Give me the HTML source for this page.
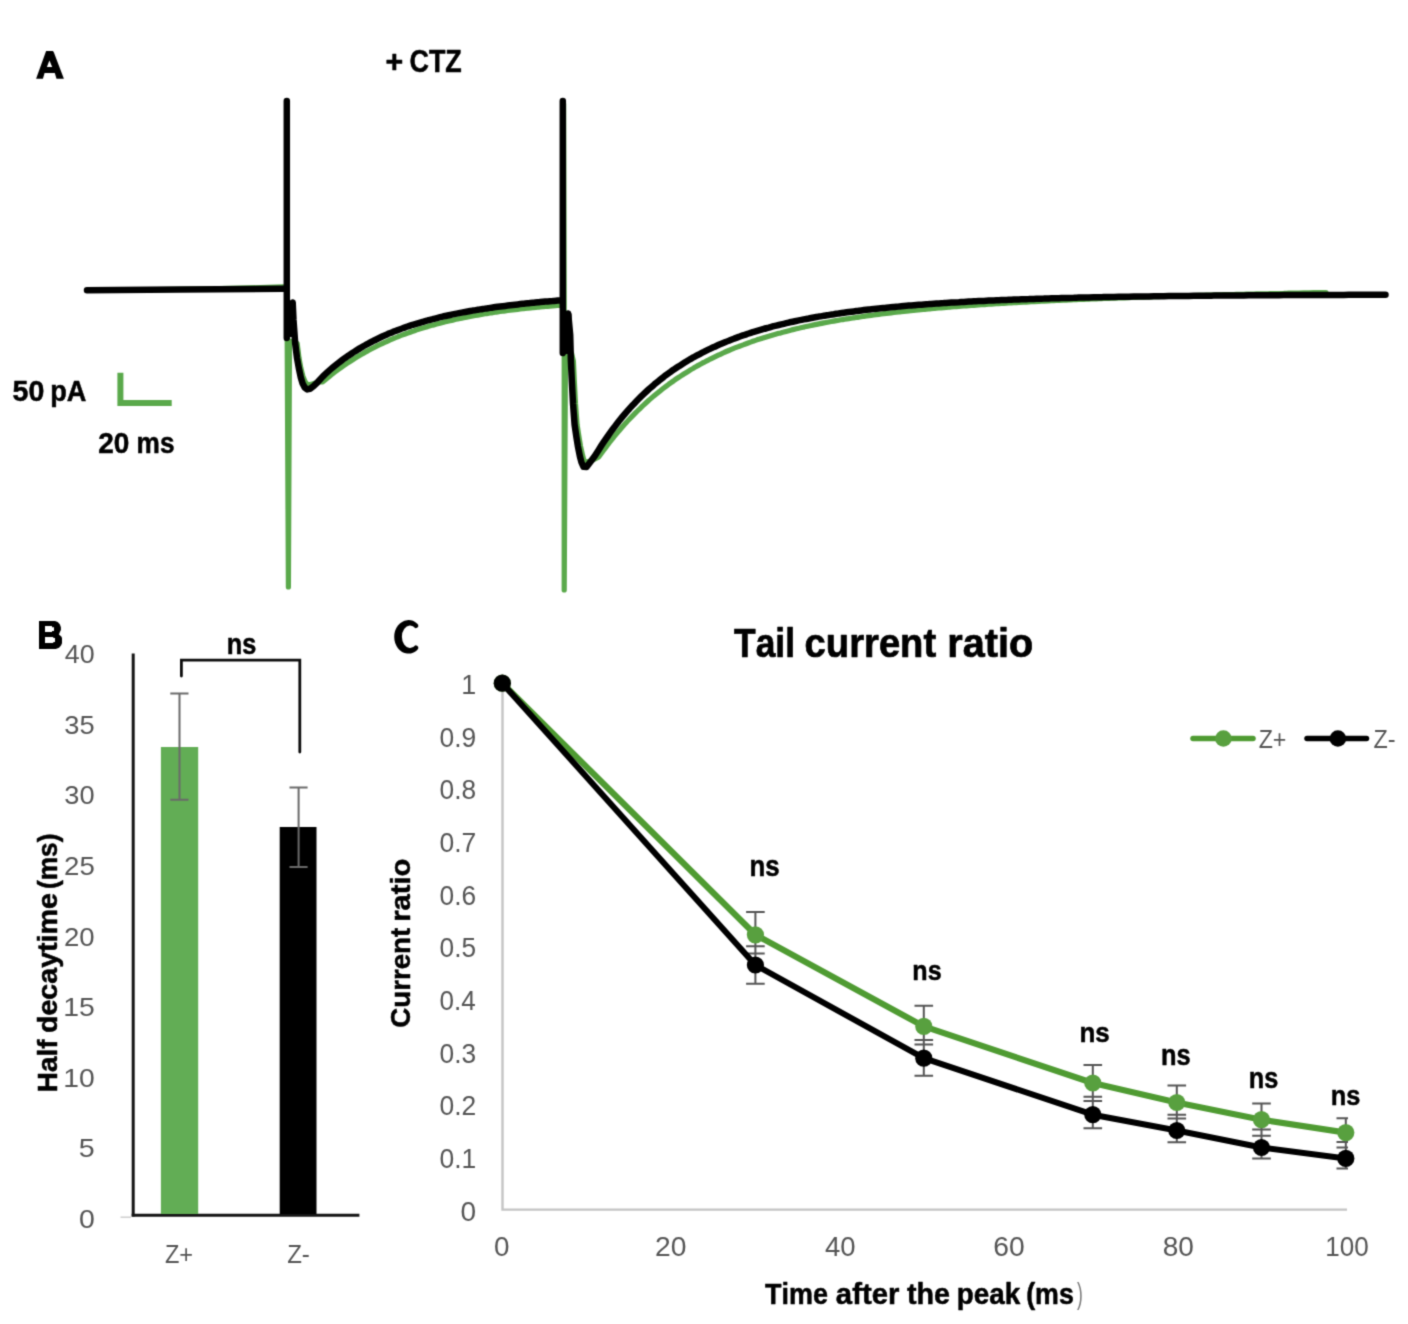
<!DOCTYPE html>
<html><head><meta charset="utf-8"><title>Figure</title>
<style>
html,body{margin:0;padding:0;background:#fff;overflow:hidden;}
svg{display:block;}
#w{width:1408px;height:1324px;}
text{font-family:"Liberation Sans",sans-serif;font-kerning:none;}
</style></head>
<body>
<div id="w">
<svg width="1408" height="1324" viewBox="0 0 1408 1324">
<defs><filter id="bl" x="0" y="0" width="1408" height="1324" filterUnits="userSpaceOnUse" color-interpolation-filters="sRGB"><feConvolveMatrix order="3" kernelMatrix="1 4 1 4 16 4 1 4 1" divisor="36" edgeMode="duplicate"/></filter></defs>
<g filter="url(#bl)">
<rect width="1408" height="1324" fill="#fff"/>
<path fill-rule="evenodd" fill="#000" d="M36.1,78.7 L46.1,51.1 H52.9 L53.8,52.2 L63.9,78.7 H56.5 L54.8,72.9 H44.6 L42.9,78.7 Z M49.4,60.6 L46.9,67 H52.2 Z"/>
<text transform="translate(385.53,72.00) scale(0.9502,1)" font-size="31.90" font-weight="bold" fill="#000"  stroke="#000" stroke-width="0.57" stroke-linejoin="round">+</text>
<text transform="translate(409.50,72.00) scale(0.8614,1)" font-size="31.22" font-weight="bold" fill="#000"  stroke="#000" stroke-width="0.56" stroke-linejoin="round">CTZ</text>
<text transform="translate(12.62,400.50) scale(0.9945,1)" font-size="28.70" font-weight="bold" fill="#000"  stroke="#000" stroke-width="0.52" stroke-linejoin="round">50</text>
<text transform="translate(50.21,400.50) scale(0.9297,1)" font-size="29.22" font-weight="bold" fill="#000"  stroke="#000" stroke-width="0.53" stroke-linejoin="round">pA</text>
<text transform="translate(98.23,452.80) scale(0.9748,1)" font-size="28.70" font-weight="bold" fill="#000"  stroke="#000" stroke-width="0.52" stroke-linejoin="round">20</text>
<text transform="translate(136.57,452.80) scale(0.9138,1)" font-size="28.70" font-weight="bold" fill="#000"  stroke="#000" stroke-width="0.52" stroke-linejoin="round">ms</text>
<path d="M120.4,372.8 V402.9 H171.7" fill="none" stroke="#5aa94b" stroke-width="6" stroke-linejoin="miter"/>
<path d="M89,290.3 L200,289.2 L283,286.9 L287,286.9 L287,104 L287,300 L288.4,587.0 L289.5,341.0 L294.5,342.0 L297.2,343.5 L299.0,358.0 L300.8,368.0 L302.8,376.0 L305.0,381.5 L307.0,384.3 L309.5,384.8 L313.0,383.8 L318.5,382.0 L322.7,381.9 C323.5,381.2 326.0,379.1 327.7,377.7 C329.4,376.4 331.0,375.0 332.7,373.7 C334.4,372.4 336.0,371.2 337.7,369.9 C339.4,368.7 341.0,367.5 342.7,366.3 C344.4,365.2 346.0,364.0 347.7,362.9 C349.4,361.8 351.0,360.7 352.7,359.7 C354.4,358.6 356.0,357.6 357.7,356.6 C359.4,355.6 361.0,354.6 362.7,353.7 C364.4,352.7 366.0,351.8 367.7,350.9 C369.4,350.0 371.0,349.1 372.7,348.2 C374.4,347.4 376.0,346.5 377.7,345.7 C379.4,344.9 381.0,344.1 382.7,343.3 C384.4,342.6 386.0,341.8 387.7,341.1 C389.4,340.3 391.0,339.6 392.7,338.9 C394.4,338.2 396.0,337.5 397.7,336.9 C399.4,336.2 401.0,335.5 402.7,334.9 C404.4,334.3 406.0,333.7 407.7,333.1 C409.4,332.5 411.0,331.9 412.7,331.3 C414.4,330.7 416.0,330.2 417.7,329.6 C419.4,329.1 421.0,328.6 422.7,328.1 C424.4,327.5 426.0,327.0 427.7,326.6 C429.4,326.1 431.0,325.6 432.7,325.1 C434.4,324.7 436.0,324.2 437.7,323.8 C439.4,323.3 441.0,322.9 442.7,322.5 C444.4,322.1 446.0,321.6 447.7,321.2 C449.4,320.8 451.0,320.5 452.7,320.1 C454.4,319.7 456.0,319.3 457.7,319.0 C459.4,318.6 461.0,318.3 462.7,317.9 C464.4,317.6 466.0,317.2 467.7,316.9 C469.4,316.6 471.0,316.3 472.7,316.0 C474.4,315.7 476.0,315.4 477.7,315.1 C479.4,314.8 481.0,314.5 482.7,314.2 C484.4,313.9 486.0,313.7 487.7,313.4 C489.4,313.1 491.0,312.9 492.7,312.6 C494.4,312.4 496.0,312.1 497.7,311.9 C499.4,311.6 501.0,311.4 502.7,311.2 C504.4,311.0 506.0,310.7 507.7,310.5 C509.4,310.3 511.0,310.1 512.7,309.9 C514.4,309.7 516.0,309.5 517.7,309.3 C519.4,309.1 521.0,308.9 522.7,308.7 C524.4,308.5 526.0,308.4 527.7,308.2 C529.4,308.0 531.0,307.8 532.7,307.7 C534.4,307.5 536.0,307.3 537.7,307.2 C539.4,307.0 541.0,306.9 542.7,306.7 C544.4,306.6 546.0,306.4 547.7,306.3 C549.4,306.1 551.0,306.0 552.7,305.9 C554.4,305.7 556.8,305.5 557.7,305.5 C558.6,305.4 558.2,305.4 558.3,305.4 L561,305.5 L563.6,305 L563.6,104 L564.2,300 L564.2,590.0 L565.5,352.0 L571.5,353.0 L573.4,361.2 L574.4,382.3 L575.5,403.5 L577.1,424.7 L579.0,437.0 L580.5,446.0 L582.5,455.0 L584.1,461.2 L587.0,462.3 L591.0,460.8 L595.0,458.8 L598.8,456.9 C599.6,455.7 602.1,452.2 603.8,449.9 C605.5,447.7 607.1,445.5 608.8,443.3 C610.5,441.2 612.1,439.1 613.8,437.0 C615.5,434.9 617.1,432.9 618.8,431.0 C620.5,429.0 622.1,427.1 623.8,425.2 C625.5,423.4 627.1,421.6 628.8,419.8 C630.5,418.0 632.1,416.3 633.8,414.6 C635.5,412.9 637.1,411.2 638.8,409.6 C640.5,408.0 642.1,406.4 643.8,404.9 C645.5,403.3 647.1,401.8 648.8,400.3 C650.5,398.9 652.1,397.4 653.8,396.0 C655.5,394.6 657.1,393.3 658.8,391.9 C660.5,390.6 662.1,389.3 663.8,388.0 C665.5,386.7 667.1,385.5 668.8,384.2 C670.5,383.0 672.1,381.8 673.8,380.7 C675.5,379.5 677.1,378.4 678.8,377.3 C680.5,376.2 682.1,375.1 683.8,374.0 C685.5,372.9 687.1,371.9 688.8,370.9 C690.5,369.9 692.1,368.9 693.8,367.9 C695.5,367.0 697.1,366.0 698.8,365.1 C700.5,364.2 702.1,363.3 703.8,362.4 C705.5,361.5 707.1,360.6 708.8,359.8 C710.5,358.9 712.1,358.1 713.8,357.3 C715.5,356.5 717.1,355.7 718.8,354.9 C720.5,354.2 722.1,353.4 723.8,352.7 C725.5,351.9 727.1,351.2 728.8,350.5 C730.5,349.8 732.1,349.1 733.8,348.4 C735.5,347.8 737.1,347.1 738.8,346.5 C740.5,345.8 742.1,345.2 743.8,344.6 C745.5,343.9 747.1,343.3 748.8,342.7 C750.5,342.1 752.1,341.6 753.8,341.0 C755.5,340.4 757.1,339.9 758.8,339.3 C760.5,338.8 762.1,338.3 763.8,337.7 C765.5,337.2 767.1,336.7 768.8,336.2 C770.5,335.7 772.1,335.2 773.8,334.7 C775.5,334.3 777.1,333.8 778.8,333.3 C780.5,332.9 782.1,332.4 783.8,332.0 C785.5,331.5 787.1,331.1 788.8,330.7 C790.5,330.3 792.1,329.8 793.8,329.4 C795.5,329.0 797.1,328.6 798.8,328.2 C800.5,327.9 802.1,327.5 803.8,327.1 C805.5,326.7 807.1,326.4 808.8,326.0 C810.5,325.6 812.1,325.3 813.8,324.9 C815.5,324.6 817.1,324.3 818.8,323.9 C820.5,323.6 822.1,323.3 823.8,322.9 C825.5,322.6 827.1,322.3 828.8,322.0 C830.5,321.7 832.1,321.4 833.8,321.1 C835.5,320.8 837.1,320.5 838.8,320.2 C840.5,319.9 842.1,319.7 843.8,319.4 C845.5,319.1 847.1,318.8 848.8,318.6 C850.5,318.3 852.1,318.1 853.8,317.8 C855.5,317.6 857.1,317.3 858.8,317.1 C860.5,316.8 862.1,316.6 863.8,316.3 C865.5,316.1 867.1,315.9 868.8,315.6 C870.5,315.4 872.1,315.2 873.8,315.0 C875.5,314.7 877.1,314.5 878.8,314.3 C880.5,314.1 882.1,313.9 883.8,313.7 C885.5,313.5 887.1,313.3 888.8,313.1 C890.5,312.9 892.1,312.7 893.8,312.5 C895.5,312.3 897.1,312.1 898.8,311.9 C900.5,311.7 902.1,311.6 903.8,311.4 C905.5,311.2 907.1,311.0 908.8,310.8 C910.5,310.7 912.1,310.5 913.8,310.3 C915.5,310.2 917.1,310.0 918.8,309.8 C920.5,309.7 922.1,309.5 923.8,309.3 C925.5,309.2 927.1,309.0 928.8,308.9 C930.5,308.7 932.1,308.6 933.8,308.4 C935.5,308.3 937.1,308.1 938.8,308.0 C940.5,307.8 942.1,307.7 943.8,307.6 C945.5,307.4 947.1,307.3 948.8,307.2 C950.5,307.0 952.1,306.9 953.8,306.7 C955.5,306.6 957.1,306.5 958.8,306.4 C960.5,306.2 962.1,306.1 963.8,306.0 C965.5,305.9 967.1,305.7 968.8,305.6 C970.5,305.5 972.1,305.4 973.8,305.3 C975.5,305.1 977.1,305.0 978.8,304.9 C980.5,304.8 982.1,304.7 983.8,304.6 C985.5,304.5 987.1,304.3 988.8,304.2 C990.5,304.1 992.1,304.0 993.8,303.9 C995.5,303.8 997.1,303.7 998.8,303.6 C1000.5,303.5 1002.1,303.4 1003.8,303.3 C1005.5,303.2 1007.1,303.1 1008.8,303.0 C1010.5,302.9 1012.1,302.8 1013.8,302.7 C1015.5,302.6 1017.1,302.5 1018.8,302.4 C1020.5,302.3 1022.1,302.2 1023.8,302.2 C1025.5,302.1 1027.1,302.0 1028.8,301.9 C1030.5,301.8 1032.1,301.7 1033.8,301.6 C1035.5,301.5 1037.1,301.4 1038.8,301.4 C1040.5,301.3 1042.1,301.2 1043.8,301.1 C1045.5,301.0 1047.1,300.9 1048.8,300.9 C1050.5,300.8 1052.1,300.7 1053.8,300.6 C1055.5,300.5 1057.1,300.5 1058.8,300.4 C1060.5,300.3 1062.1,300.2 1063.8,300.2 C1065.5,300.1 1067.1,300.0 1068.8,299.9 C1070.5,299.9 1072.1,299.8 1073.8,299.7 C1075.5,299.6 1077.1,299.6 1078.8,299.5 C1080.5,299.4 1082.1,299.4 1083.8,299.3 C1085.5,299.2 1087.1,299.2 1088.8,299.1 C1090.5,299.0 1092.1,299.0 1093.8,298.9 C1095.5,298.8 1097.1,298.8 1098.8,298.7 C1100.5,298.6 1102.1,298.6 1103.8,298.5 C1105.5,298.4 1107.1,298.4 1108.8,298.3 C1110.5,298.2 1112.1,298.2 1113.8,298.1 C1115.5,298.1 1117.1,298.0 1118.8,297.9 C1120.5,297.9 1122.1,297.8 1123.8,297.8 C1125.5,297.7 1127.1,297.6 1128.8,297.6 C1130.5,297.5 1132.1,297.5 1133.8,297.4 C1135.5,297.3 1137.1,297.3 1138.8,297.2 C1140.5,297.2 1142.1,297.1 1143.8,297.1 C1145.5,297.0 1147.1,297.0 1148.8,296.9 C1150.5,296.8 1152.1,296.8 1153.8,296.7 C1155.5,296.7 1157.1,296.6 1158.8,296.6 C1160.5,296.5 1162.1,296.5 1163.8,296.4 C1165.5,296.4 1167.1,296.3 1168.8,296.3 C1170.5,296.2 1172.1,296.2 1173.8,296.1 C1175.5,296.1 1177.1,296.0 1178.8,296.0 C1180.5,295.9 1182.1,295.9 1183.8,295.8 C1185.5,295.8 1187.1,295.7 1188.8,295.7 C1190.5,295.6 1192.1,295.6 1193.8,295.5 C1195.5,295.5 1197.1,295.5 1198.8,295.4 C1200.5,295.4 1202.1,295.3 1203.8,295.3 C1205.5,295.2 1207.1,295.2 1208.8,295.1 C1210.5,295.1 1212.1,295.0 1213.8,295.0 C1215.5,295.0 1217.1,294.9 1218.8,294.9 C1220.5,294.8 1222.1,294.8 1223.8,294.7 C1225.5,294.7 1227.1,294.7 1228.8,294.6 C1230.5,294.6 1232.1,294.5 1233.8,294.5 C1235.5,294.5 1237.1,294.4 1238.8,294.4 C1240.5,294.3 1242.1,294.3 1243.8,294.3 C1245.5,294.2 1247.1,294.2 1248.8,294.1 C1250.5,294.1 1252.1,294.1 1253.8,294.0 C1255.5,294.0 1257.1,293.9 1258.8,293.9 C1260.5,293.9 1262.1,293.8 1263.8,293.8 C1265.5,293.8 1267.1,293.7 1268.8,293.7 C1270.5,293.6 1272.1,293.6 1273.8,293.6 C1275.5,293.5 1277.1,293.5 1278.8,293.5 C1280.5,293.4 1282.1,293.4 1283.8,293.4 C1285.5,293.3 1287.1,293.3 1288.8,293.2 C1290.5,293.2 1292.1,293.2 1293.8,293.1 C1295.5,293.1 1297.1,293.1 1298.8,293.0 C1300.5,293.0 1302.1,293.0 1303.8,292.9 C1305.5,292.9 1307.1,292.9 1308.8,292.8 C1310.5,292.8 1312.1,292.8 1313.8,292.7 C1315.5,292.7 1317.1,292.7 1318.8,292.6 C1320.5,292.6 1322.6,292.6 1323.8,292.5 C1325.0,292.5 1325.6,292.5 1326.0,292.5" fill="none" stroke="#5aa94b" stroke-width="5.2" stroke-linejoin="round" stroke-linecap="round"/>
<rect x="284" y="301" width="11.4" height="36" rx="3" fill="#000"/>
<rect x="560" y="312" width="11.5" height="42" rx="3" fill="#000"/>
<path d="M87,290.3 L180,289.6 L283,288.8 L286.8,288.8 L286.8,101 L286.8,338.0 L292.7,302.5 L293.5,320.0 L295.2,343.5 L297.0,358.0 L298.8,368.0 L300.8,377.5 L302.6,383.5 L304.8,387.6 L307.2,389.4 L310.0,388.8 L313.5,386.2 L317.5,382.3 L322.7,376.6 C323.5,375.8 326.0,373.4 327.7,371.9 C329.4,370.4 331.0,369.0 332.7,367.6 C334.4,366.2 336.0,364.9 337.7,363.5 C339.4,362.2 341.0,361.0 342.7,359.7 C344.4,358.5 346.0,357.3 347.7,356.1 C349.4,355.0 351.0,353.9 352.7,352.8 C354.4,351.7 356.0,350.6 357.7,349.6 C359.4,348.6 361.0,347.6 362.7,346.6 C364.4,345.7 366.0,344.7 367.7,343.8 C369.4,342.9 371.0,342.0 372.7,341.2 C374.4,340.3 376.0,339.5 377.7,338.7 C379.4,337.9 381.0,337.1 382.7,336.3 C384.4,335.6 386.0,334.9 387.7,334.1 C389.4,333.4 391.0,332.7 392.7,332.1 C394.4,331.4 396.0,330.7 397.7,330.1 C399.4,329.5 401.0,328.8 402.7,328.2 C404.4,327.6 406.0,327.1 407.7,326.5 C409.4,325.9 411.0,325.4 412.7,324.8 C414.4,324.3 416.0,323.8 417.7,323.3 C419.4,322.8 421.0,322.3 422.7,321.8 C424.4,321.3 426.0,320.8 427.7,320.4 C429.4,319.9 431.0,319.5 432.7,319.1 C434.4,318.6 436.0,318.2 437.7,317.8 C439.4,317.4 441.0,317.0 442.7,316.6 C444.4,316.2 446.0,315.9 447.7,315.5 C449.4,315.1 451.0,314.8 452.7,314.4 C454.4,314.1 456.0,313.7 457.7,313.4 C459.4,313.1 461.0,312.7 462.7,312.4 C464.4,312.1 466.0,311.8 467.7,311.5 C469.4,311.2 471.0,310.9 472.7,310.6 C474.4,310.4 476.0,310.1 477.7,309.8 C479.4,309.5 481.0,309.3 482.7,309.0 C484.4,308.8 486.0,308.5 487.7,308.3 C489.4,308.0 491.0,307.8 492.7,307.5 C494.4,307.3 496.0,307.1 497.7,306.8 C499.4,306.6 501.0,306.4 502.7,306.2 C504.4,306.0 506.0,305.8 507.7,305.6 C509.4,305.4 511.0,305.2 512.7,305.0 C514.4,304.8 516.0,304.6 517.7,304.4 C519.4,304.2 521.0,304.0 522.7,303.8 C524.4,303.6 526.0,303.5 527.7,303.3 C529.4,303.1 531.0,303.0 532.7,302.8 C534.4,302.6 536.0,302.5 537.7,302.3 C539.4,302.1 541.0,302.0 542.7,301.8 C544.4,301.7 546.0,301.5 547.7,301.4 C549.4,301.2 551.0,301.1 552.7,301.0 C554.4,300.8 556.8,300.6 557.7,300.5 C558.6,300.5 558.2,300.5 558.3,300.5 L562.8,300.4 L562.8,101 L562.8,353.0 L568.2,313.5 L570.2,335.0 L570.9,361.2 L571.9,382.3 L573.0,403.5 L574.6,424.7 L576.4,437.0 L577.8,445.8 L579.9,456.4 L581.5,462.5 L583.5,466.8 L586.5,466.9 L590.9,461.2 L594.8,456.0 L598.8,449.7 C599.6,448.4 602.1,444.4 603.8,441.9 C605.5,439.5 607.1,437.0 608.8,434.7 C610.5,432.3 612.1,430.0 613.8,427.8 C615.5,425.6 617.1,423.4 618.8,421.3 C620.5,419.2 622.1,417.2 623.8,415.2 C625.5,413.2 627.1,411.3 628.8,409.4 C630.5,407.6 632.1,405.7 633.8,404.0 C635.5,402.2 637.1,400.5 638.8,398.8 C640.5,397.1 642.1,395.5 643.8,393.9 C645.5,392.3 647.1,390.8 648.8,389.3 C650.5,387.8 652.1,386.3 653.8,384.9 C655.5,383.5 657.1,382.1 658.8,380.8 C660.5,379.4 662.1,378.1 663.8,376.8 C665.5,375.6 667.1,374.3 668.8,373.1 C670.5,371.9 672.1,370.7 673.8,369.6 C675.5,368.4 677.1,367.3 678.8,366.2 C680.5,365.2 682.1,364.1 683.8,363.1 C685.5,362.0 687.1,361.0 688.8,360.0 C690.5,359.1 692.1,358.1 693.8,357.2 C695.5,356.2 697.1,355.3 698.8,354.5 C700.5,353.6 702.1,352.7 703.8,351.9 C705.5,351.0 707.1,350.2 708.8,349.4 C710.5,348.6 712.1,347.8 713.8,347.1 C715.5,346.3 717.1,345.6 718.8,344.8 C720.5,344.1 722.1,343.4 723.8,342.7 C725.5,342.0 727.1,341.3 728.8,340.7 C730.5,340.0 732.1,339.4 733.8,338.8 C735.5,338.1 737.1,337.5 738.8,336.9 C740.5,336.3 742.1,335.7 743.8,335.2 C745.5,334.6 747.1,334.1 748.8,333.5 C750.5,333.0 752.1,332.4 753.8,331.9 C755.5,331.4 757.1,330.9 758.8,330.4 C760.5,329.9 762.1,329.4 763.8,328.9 C765.5,328.5 767.1,328.0 768.8,327.6 C770.5,327.1 772.1,326.7 773.8,326.2 C775.5,325.8 777.1,325.4 778.8,325.0 C780.5,324.6 782.1,324.2 783.8,323.8 C785.5,323.4 787.1,323.0 788.8,322.6 C790.5,322.2 792.1,321.9 793.8,321.5 C795.5,321.1 797.1,320.8 798.8,320.4 C800.5,320.1 802.1,319.8 803.8,319.4 C805.5,319.1 807.1,318.8 808.8,318.5 C810.5,318.1 812.1,317.8 813.8,317.5 C815.5,317.2 817.1,316.9 818.8,316.6 C820.5,316.4 822.1,316.1 823.8,315.8 C825.5,315.5 827.1,315.2 828.8,315.0 C830.5,314.7 832.1,314.4 833.8,314.2 C835.5,313.9 837.1,313.7 838.8,313.4 C840.5,313.2 842.1,313.0 843.8,312.7 C845.5,312.5 847.1,312.3 848.8,312.0 C850.5,311.8 852.1,311.6 853.8,311.4 C855.5,311.2 857.1,310.9 858.8,310.7 C860.5,310.5 862.1,310.3 863.8,310.1 C865.5,309.9 867.1,309.7 868.8,309.5 C870.5,309.3 872.1,309.2 873.8,309.0 C875.5,308.8 877.1,308.6 878.8,308.4 C880.5,308.3 882.1,308.1 883.8,307.9 C885.5,307.7 887.1,307.6 888.8,307.4 C890.5,307.3 892.1,307.1 893.8,306.9 C895.5,306.8 897.1,306.6 898.8,306.5 C900.5,306.3 902.1,306.2 903.8,306.0 C905.5,305.9 907.1,305.8 908.8,305.6 C910.5,305.5 912.1,305.3 913.8,305.2 C915.5,305.1 917.1,304.9 918.8,304.8 C920.5,304.7 922.1,304.6 923.8,304.4 C925.5,304.3 927.1,304.2 928.8,304.1 C930.5,303.9 932.1,303.8 933.8,303.7 C935.5,303.6 937.1,303.5 938.8,303.4 C940.5,303.3 942.1,303.2 943.8,303.1 C945.5,302.9 947.1,302.8 948.8,302.7 C950.5,302.6 952.1,302.5 953.8,302.4 C955.5,302.3 957.1,302.2 958.8,302.2 C960.5,302.1 962.1,302.0 963.8,301.9 C965.5,301.8 967.1,301.7 968.8,301.6 C970.5,301.5 972.1,301.4 973.8,301.3 C975.5,301.3 977.1,301.2 978.8,301.1 C980.5,301.0 982.1,300.9 983.8,300.9 C985.5,300.8 987.1,300.7 988.8,300.6 C990.5,300.6 992.1,300.5 993.8,300.4 C995.5,300.3 997.1,300.3 998.8,300.2 C1000.5,300.1 1002.1,300.1 1003.8,300.0 C1005.5,299.9 1007.1,299.9 1008.8,299.8 C1010.5,299.7 1012.1,299.7 1013.8,299.6 C1015.5,299.5 1017.1,299.5 1018.8,299.4 C1020.5,299.3 1022.1,299.3 1023.8,299.2 C1025.5,299.2 1027.1,299.1 1028.8,299.1 C1030.5,299.0 1032.1,298.9 1033.8,298.9 C1035.5,298.8 1037.1,298.8 1038.8,298.7 C1040.5,298.7 1042.1,298.6 1043.8,298.6 C1045.5,298.5 1047.1,298.5 1048.8,298.4 C1050.5,298.4 1052.1,298.3 1053.8,298.3 C1055.5,298.2 1057.1,298.2 1058.8,298.2 C1060.5,298.1 1062.1,298.1 1063.8,298.0 C1065.5,298.0 1067.1,297.9 1068.8,297.9 C1070.5,297.8 1072.1,297.8 1073.8,297.8 C1075.5,297.7 1077.1,297.7 1078.8,297.6 C1080.5,297.6 1082.1,297.6 1083.8,297.5 C1085.5,297.5 1087.1,297.5 1088.8,297.4 C1090.5,297.4 1092.1,297.4 1093.8,297.3 C1095.5,297.3 1097.1,297.2 1098.8,297.2 C1100.5,297.2 1102.1,297.1 1103.8,297.1 C1105.5,297.1 1107.1,297.0 1108.8,297.0 C1110.5,297.0 1112.1,297.0 1113.8,296.9 C1115.5,296.9 1117.1,296.9 1118.8,296.8 C1120.5,296.8 1122.1,296.8 1123.8,296.7 C1125.5,296.7 1127.1,296.7 1128.8,296.7 C1130.5,296.6 1132.1,296.6 1133.8,296.6 C1135.5,296.6 1137.1,296.5 1138.8,296.5 C1140.5,296.5 1142.1,296.5 1143.8,296.4 C1145.5,296.4 1147.1,296.4 1148.8,296.4 C1150.5,296.3 1152.1,296.3 1153.8,296.3 C1155.5,296.3 1157.1,296.2 1158.8,296.2 C1160.5,296.2 1162.1,296.2 1163.8,296.2 C1165.5,296.1 1167.1,296.1 1168.8,296.1 C1170.5,296.1 1172.1,296.1 1173.8,296.0 C1175.5,296.0 1177.1,296.0 1178.8,296.0 C1180.5,296.0 1182.1,295.9 1183.8,295.9 C1185.5,295.9 1187.1,295.9 1188.8,295.9 C1190.5,295.8 1192.1,295.8 1193.8,295.8 C1195.5,295.8 1197.1,295.8 1198.8,295.8 C1200.5,295.7 1202.1,295.7 1203.8,295.7 C1205.5,295.7 1207.1,295.7 1208.8,295.7 C1210.5,295.7 1212.1,295.6 1213.8,295.6 C1215.5,295.6 1217.1,295.6 1218.8,295.6 C1220.5,295.6 1222.1,295.6 1223.8,295.5 C1225.5,295.5 1227.1,295.5 1228.8,295.5 C1230.5,295.5 1232.1,295.5 1233.8,295.5 C1235.5,295.4 1237.1,295.4 1238.8,295.4 C1240.5,295.4 1242.1,295.4 1243.8,295.4 C1245.5,295.4 1247.1,295.4 1248.8,295.3 C1250.5,295.3 1252.1,295.3 1253.8,295.3 C1255.5,295.3 1257.1,295.3 1258.8,295.3 C1260.5,295.3 1262.1,295.3 1263.8,295.2 C1265.5,295.2 1267.1,295.2 1268.8,295.2 C1270.5,295.2 1272.1,295.2 1273.8,295.2 C1275.5,295.2 1277.1,295.2 1278.8,295.2 C1280.5,295.1 1282.1,295.1 1283.8,295.1 C1285.5,295.1 1287.1,295.1 1288.8,295.1 C1290.5,295.1 1292.1,295.1 1293.8,295.1 C1295.5,295.1 1297.1,295.1 1298.8,295.1 C1300.5,295.0 1302.1,295.0 1303.8,295.0 C1305.5,295.0 1307.1,295.0 1308.8,295.0 C1310.5,295.0 1312.1,295.0 1313.8,295.0 C1315.5,295.0 1317.1,295.0 1318.8,295.0 C1320.5,295.0 1322.1,294.9 1323.8,294.9 C1325.5,294.9 1327.1,294.9 1328.8,294.9 C1330.5,294.9 1332.1,294.9 1333.8,294.9 C1335.5,294.9 1337.1,294.9 1338.8,294.9 C1340.5,294.9 1342.1,294.9 1343.8,294.9 C1345.5,294.9 1347.1,294.9 1348.8,294.8 C1350.5,294.8 1352.1,294.8 1353.8,294.8 C1355.5,294.8 1357.1,294.8 1358.8,294.8 C1360.5,294.8 1362.1,294.8 1363.8,294.8 C1365.5,294.8 1367.1,294.8 1368.8,294.8 C1370.5,294.8 1372.1,294.8 1373.8,294.8 C1375.5,294.8 1377.1,294.8 1378.8,294.8 C1380.5,294.7 1382.7,294.7 1383.8,294.7 C1384.9,294.7 1385.2,294.7 1385.5,294.7" fill="none" stroke="#000" stroke-width="6.5" stroke-linejoin="round" stroke-linecap="round"/>
<path fill-rule="evenodd" fill="#000" d="M39,620.9 H55 L57.7,621.9 L59.8,624.3 L60.9,627.3 V629.9 L59.8,632.3 L58.9,634.5 L61.3,636.6 L62,637.9 V643.2 L61,645.5 L59,647.7 L55.8,648.9 H39 Z M45,626.1 H52 V627.2 H54 V630.9 H52 V632 H45 Z M45,637 H53.3 V638 H55 V642.1 H53.3 V643.1 H45 Z"/>
<text transform="translate(78.89,1227.99) scale(1.0777,1)" font-size="26.40" font-weight="normal" fill="#555555" >0</text>
<text transform="translate(78.85,1157.25) scale(1.0865,1)" font-size="26.40" font-weight="normal" fill="#555555" >5</text>
<text transform="translate(63.25,1086.79) scale(1.0713,1)" font-size="26.40" font-weight="normal" fill="#555555" >10</text>
<text transform="translate(63.24,1016.05) scale(1.0745,1)" font-size="26.40" font-weight="normal" fill="#555555" >15</text>
<text transform="translate(64.01,945.59) scale(1.0442,1)" font-size="26.40" font-weight="normal" fill="#555555" >20</text>
<text transform="translate(64.01,874.99) scale(1.0472,1)" font-size="26.40" font-weight="normal" fill="#555555" >25</text>
<text transform="translate(64.36,804.39) scale(1.0319,1)" font-size="26.40" font-weight="normal" fill="#555555" >30</text>
<text transform="translate(64.36,733.79) scale(1.0348,1)" font-size="26.40" font-weight="normal" fill="#555555" >35</text>
<text transform="translate(64.78,663.19) scale(1.0170,1)" font-size="26.40" font-weight="normal" fill="#555555" >40</text>
<line x1="133.2" y1="653.4" x2="133.2" y2="1216.6" stroke="#141414" stroke-width="3"/>
<line x1="131.7" y1="1215.2" x2="359.4" y2="1215.2" stroke="#141414" stroke-width="3"/>
<line x1="120.5" y1="1217.2" x2="131" y2="1217.2" stroke="#cfcfcf" stroke-width="1.5"/>
<rect x="160.9" y="747" width="37.3" height="467" fill="#62ad55"/>
<rect x="279.7" y="827" width="36.8" height="387" fill="#000"/>
<path d="M179.5,693.6 V799.7 M170.3,693.6 H188.5 M170.3,799.7 H188.5" stroke="#6a6a6a" stroke-width="2" fill="none"/>
<path d="M298.6,787.5 V867 M289.5,787.5 H307.6 M289.5,867 H307.6" stroke="#6a6a6a" stroke-width="2" fill="none"/>
<path d="M181.4,676 V660.1 H299.8 V752" stroke="#0d0d0d" stroke-width="2.8" fill="none" stroke-linecap="round"/>
<text transform="translate(226.73,654.10) scale(0.8728,1)" font-size="28.97" font-weight="bold" fill="#000"  stroke="#000" stroke-width="0.52" stroke-linejoin="round">ns</text>
<text transform="translate(164.95,1263.20) scale(0.8926,1)" font-size="26.45" font-weight="normal" fill="#555555" >Z+</text>
<text transform="translate(287.14,1263.20) scale(0.9105,1)" font-size="26.45" font-weight="normal" fill="#555555" >Z-</text>
<text transform="translate(56.60,1092.17) rotate(-90) scale(0.9844,1)" font-size="28.40" font-weight="bold" fill="#000"  stroke="#000" stroke-width="0.51" stroke-linejoin="round">Half</text>
<text transform="translate(56.60,1033.07) rotate(-90) scale(1.0081,1)" font-size="28.40" font-weight="bold" fill="#000"  stroke="#000" stroke-width="0.51" stroke-linejoin="round">decaytime</text>
<text transform="translate(56.60,889.01) rotate(-90) scale(0.9259,1)" font-size="28.40" font-weight="bold" fill="#000"  stroke="#000" stroke-width="0.51" stroke-linejoin="round">(ms)</text>
<path fill="#000" d="M417.0,623.5 A14.2,16.75 0 1 0 417.0,650.2 Q418.7,648.8 418.3,646.9 Q417.5,645.4 415.4,645.2 A8.18,11.2 0 1 1 415.4,628.2 Q417.5,628.0 418.3,626.5 Q418.7,624.6 417.0,623.5 Z"/>
<text transform="translate(734.10,656.90) scale(0.8581,1)" font-size="41.20" font-weight="bold" fill="#000"  stroke="#000" stroke-width="0.74" stroke-linejoin="round">Tail</text>
<text transform="translate(804.61,656.90) scale(0.9268,1)" font-size="41.20" font-weight="bold" fill="#000"  stroke="#000" stroke-width="0.74" stroke-linejoin="round">current</text>
<text transform="translate(947.29,656.90) scale(0.9629,1)" font-size="41.20" font-weight="bold" fill="#000"  stroke="#000" stroke-width="0.74" stroke-linejoin="round">ratio</text>
<text transform="translate(460.51,1220.53) scale(1.0460,1)" font-size="26.80" font-weight="normal" fill="#555555" >0</text>
<text transform="translate(439.57,1167.89) scale(0.9857,1)" font-size="26.80" font-weight="normal" fill="#555555" >0.1</text>
<text transform="translate(439.57,1115.25) scale(0.9868,1)" font-size="26.80" font-weight="normal" fill="#555555" >0.2</text>
<text transform="translate(439.57,1062.61) scale(0.9820,1)" font-size="26.80" font-weight="normal" fill="#555555" >0.3</text>
<text transform="translate(439.58,1009.97) scale(0.9711,1)" font-size="26.80" font-weight="normal" fill="#555555" >0.4</text>
<text transform="translate(439.57,957.33) scale(0.9805,1)" font-size="26.80" font-weight="normal" fill="#555555" >0.5</text>
<text transform="translate(439.57,904.69) scale(0.9820,1)" font-size="26.80" font-weight="normal" fill="#555555" >0.6</text>
<text transform="translate(439.57,852.05) scale(0.9868,1)" font-size="26.80" font-weight="normal" fill="#555555" >0.7</text>
<text transform="translate(439.57,799.41) scale(0.9816,1)" font-size="26.80" font-weight="normal" fill="#555555" >0.8</text>
<text transform="translate(439.57,746.77) scale(0.9846,1)" font-size="26.80" font-weight="normal" fill="#555555" >0.9</text>
<text transform="translate(461.35,694.12) scale(1.0039,1)" font-size="26.80" font-weight="normal" fill="#555555" >1</text>
<text transform="translate(493.96,1255.74) scale(1.0382,1)" font-size="26.80" font-weight="normal" fill="#555555" >0</text>
<text transform="translate(654.99,1255.74) scale(1.0542,1)" font-size="26.80" font-weight="normal" fill="#555555" >20</text>
<text transform="translate(824.94,1255.74) scale(1.0267,1)" font-size="26.80" font-weight="normal" fill="#555555" >40</text>
<text transform="translate(993.29,1255.74) scale(1.0547,1)" font-size="26.80" font-weight="normal" fill="#555555" >60</text>
<text transform="translate(1162.67,1255.74) scale(1.0472,1)" font-size="26.80" font-weight="normal" fill="#555555" >80</text>
<text transform="translate(1325.26,1255.74) scale(0.9729,1)" font-size="26.80" font-weight="normal" fill="#555555" >100</text>
<path d="M502.5,683 V1209.6 H1347" stroke="#c4c4c4" stroke-width="2.4" fill="none"/>
<text transform="translate(765.00,1303.80) scale(0.9265,1)" font-size="29.10" font-weight="bold" fill="#000"  stroke="#000" stroke-width="0.52" stroke-linejoin="round">Time</text>
<text transform="translate(835.84,1303.80) scale(1.0068,1)" font-size="29.10" font-weight="bold" fill="#000"  stroke="#000" stroke-width="0.52" stroke-linejoin="round">after</text>
<text transform="translate(906.95,1303.80) scale(0.9858,1)" font-size="29.10" font-weight="bold" fill="#000"  stroke="#000" stroke-width="0.52" stroke-linejoin="round">the</text>
<text transform="translate(956.77,1303.80) scale(0.9560,1)" font-size="29.10" font-weight="bold" fill="#000"  stroke="#000" stroke-width="0.52" stroke-linejoin="round">peak</text>
<text transform="translate(1026.17,1303.80) scale(0.9205,1)" font-size="29.10" font-weight="bold" fill="#000"  stroke="#000" stroke-width="0.52" stroke-linejoin="round">(ms</text>
<text transform="translate(1077.10,1303.80) scale(0.5875,1)" font-size="29.53" font-weight="normal" fill="#7a7a7a" >)</text>
<text transform="translate(409.60,1027.63) rotate(-90) scale(0.9762,1)" font-size="28.30" font-weight="bold" fill="#000"  stroke="#000" stroke-width="0.51" stroke-linejoin="round">Current</text>
<text transform="translate(409.60,921.82) rotate(-90) scale(1.0299,1)" font-size="28.30" font-weight="bold" fill="#000"  stroke="#000" stroke-width="0.51" stroke-linejoin="round">ratio</text>
<clipPath id="pc"><rect x="495" y="660" width="853" height="560"/></clipPath>
<path d="M755.4,911.9 V983.7 M746.1,911.9 H764.7 M746.1,946.3 H764.7 M746.1,953.5 H764.7 M746.1,983.7 H764.7 M923.8,1005.7 V1075.7 M914.5,1005.7 H933.1 M914.5,1040 H933.1 M914.5,1044.6 H933.1 M914.5,1075.7 H933.1 M1092.8,1065 V1128.2 M1083.5,1065 H1102.1 M1083.5,1096.7 H1102.1 M1083.5,1100.9 H1102.1 M1083.5,1128.2 H1102.1 M1176.8,1085.6 V1142.2 M1167.5,1085.6 H1186.1 M1167.5,1114.7 H1186.1 M1167.5,1118.4 H1186.1 M1167.5,1142.2 H1186.1 M1261.5,1103.5 V1158.4 M1252.2,1103.5 H1270.8 M1252.2,1129.6 H1270.8 M1252.2,1135.8 H1270.8 M1252.2,1158.4 H1270.8 M1345.8,1118.2 V1168.4 M1336.5,1118.2 H1355.1 M1336.5,1142 H1355.1 M1336.5,1147.5 H1355.1 M1336.5,1168.4 H1355.1" stroke="#555555" stroke-width="2.0" fill="none" clip-path="url(#pc)"/>
<path d="M502.3,683.2 L755.4,934.8 L923.8,1026.4 L1092.8,1083.0 L1176.8,1102.5 L1261.5,1119.7 L1345.8,1132.6" stroke="#4f9b32" stroke-width="6.2" fill="none" stroke-linejoin="round"/>
<circle cx="502.3" cy="683.2" r="8.6" fill="#58a03f"/>
<circle cx="755.4" cy="934.8" r="8.6" fill="#58a03f"/>
<circle cx="923.8" cy="1026.4" r="8.6" fill="#58a03f"/>
<circle cx="1092.8" cy="1083" r="8.6" fill="#58a03f"/>
<circle cx="1176.8" cy="1102.5" r="8.6" fill="#58a03f"/>
<circle cx="1261.5" cy="1119.7" r="8.6" fill="#58a03f"/>
<circle cx="1345.8" cy="1132.6" r="8.6" fill="#58a03f"/>
<path d="M502.3,683.2 L755.4,965.0 L923.8,1058.2 L1092.8,1114.7 L1176.8,1130.5 L1261.5,1147.5 L1345.8,1158.4" stroke="#000" stroke-width="6.0" fill="none" stroke-linejoin="round"/>
<circle cx="502.3" cy="683.2" r="8.6" fill="#000"/>
<circle cx="755.4" cy="965" r="8.6" fill="#000"/>
<circle cx="923.8" cy="1058.2" r="8.6" fill="#000"/>
<circle cx="1092.8" cy="1114.7" r="8.6" fill="#000"/>
<circle cx="1176.8" cy="1130.5" r="8.6" fill="#000"/>
<circle cx="1261.5" cy="1147.5" r="8.6" fill="#000"/>
<circle cx="1345.8" cy="1158.4" r="8.6" fill="#000"/>
<text transform="translate(749.50,876.20) scale(0.8540,1)" font-size="30.27" font-weight="bold" fill="#000"  stroke="#000" stroke-width="0.54" stroke-linejoin="round">ns</text>
<text transform="translate(912.35,980.00) scale(0.8833,1)" font-size="28.41" font-weight="bold" fill="#000"  stroke="#000" stroke-width="0.51" stroke-linejoin="round">ns</text>
<text transform="translate(1079.39,1042.20) scale(0.9132,1)" font-size="28.41" font-weight="bold" fill="#000"  stroke="#000" stroke-width="0.51" stroke-linejoin="round">ns</text>
<text transform="translate(1160.93,1064.50) scale(0.8817,1)" font-size="28.78" font-weight="bold" fill="#000"  stroke="#000" stroke-width="0.52" stroke-linejoin="round">ns</text>
<text transform="translate(1248.73,1088.30) scale(0.8842,1)" font-size="28.59" font-weight="bold" fill="#000"  stroke="#000" stroke-width="0.51" stroke-linejoin="round">ns</text>
<text transform="translate(1330.73,1105.20) scale(0.9172,1)" font-size="27.67" font-weight="bold" fill="#000"  stroke="#000" stroke-width="0.50" stroke-linejoin="round">ns</text>
<line x1="1193" y1="738.5" x2="1253" y2="738.5" stroke="#4f9b32" stroke-width="5.5" stroke-linecap="round"/>
<circle cx="1223.4" cy="738.5" r="8.3" fill="#58a03f"/>
<line x1="1307" y1="738.5" x2="1366.5" y2="738.5" stroke="#000" stroke-width="5.5" stroke-linecap="round"/>
<circle cx="1337.9" cy="738.5" r="8.3" fill="#000"/>
<text transform="translate(1258.66,748.20) scale(0.8988,1)" font-size="25.87" font-weight="normal" fill="#555555" >Z+</text>
<text transform="translate(1373.56,748.20) scale(0.9043,1)" font-size="25.87" font-weight="normal" fill="#555555" >Z-</text>
</g>
</svg>
</div>
</body></html>
